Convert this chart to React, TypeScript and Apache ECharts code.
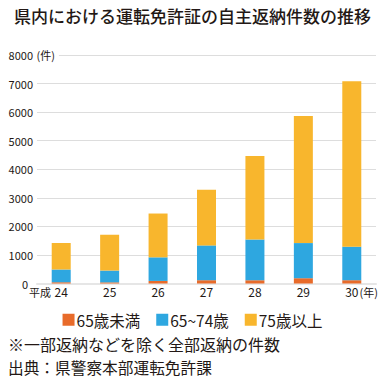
import React, { useEffect, useRef } from "react";
import * as echarts from "echarts";

const categories = ["24", "25", "26", "27", "28", "29", "30"];
const under65 = [40, 40, 90, 115, 115, 185, 115];
const age65to74 = [448, 413, 826, 1219, 1428, 1230, 1174];
const over75 = [927, 1254, 1534, 1952, 2917, 4449, 5795];
const seriesNames = ["65歳未満", "65~74歳", "75歳以上"];
const colors = ["#E86B2A", "#2EA7E0", "#F8B62D"];
const yTicks = { min: 0, max: 8000, interval: 1000 };

const TEXT = "#231815";
const FONT = "'Noto Sans CJK JP', 'Noto Sans', sans-serif";

export default function App() {
  const ref = useRef<HTMLDivElement>(null);
  useEffect(() => {
    if (!ref.current) return;
    const chart = echarts.init(ref.current, undefined, { renderer: "svg" });
    const data = [under65, age65to74, over75];
    chart.setOption({
      animation: false,
      backgroundColor: "#fff",
      textStyle: { fontFamily: FONT, color: TEXT },
      grid: { left: 37, right: 9, top: 55, bottom: 97.5, containLabel: false },
      legend: {
        data: seriesNames,
        left: "center",
        top: 307,
        itemWidth: 12,
        itemHeight: 12,
        itemGap: 16,
        icon: "rect",
        textStyle: { fontSize: 15.5, color: TEXT, fontFamily: FONT, padding: [0, 0, 0, -3] },
      },
      xAxis: {
        type: "category",
        data: categories,
        axisLine: { show: true, lineStyle: { color: "#e6e6e6", width: 2 } },
        axisTick: { show: false },
        axisLabel: { fontSize: 12, color: TEXT, margin: 2, fontFamily: FONT },
      },
      yAxis: {
        type: "value",
        min: yTicks.min,
        max: yTicks.max,
        interval: yTicks.interval,
        axisLine: { show: false },
        axisTick: { show: false },
        splitLine: { lineStyle: { color: "#dddddd", width: 1 } },
        axisLabel: {
          fontSize: 11,
          color: TEXT,
          margin: 4,
          fontFamily: FONT,
          formatter: (v: number) => (v === 0 ? "{z|0}" : String(v)),
          rich: {
            z: { fontSize: 11, color: TEXT, fontFamily: FONT, padding: [0, 5, 0, 0] },
          },
        },
      },
      series: seriesNames.map((name, i) => ({
        name,
        type: "bar",
        stack: "total",
        barWidth: 19,
        data: data[i],
        itemStyle: { color: colors[i] },
      })),
      graphic: [
        {
          type: "text",
          left: "center",
          top: 7,
          style: {
            text: "県内における運転免許証の自主返納件数の推移",
            fontSize: 17,
            fontWeight: 500,
            fill: TEXT,
            fontFamily: FONT,
          },
        },
        {
          type: "text",
          x: 34,
          y: 55,
          z: 100,
          style: {
            text: " (件)",
            fontSize: 11,
            fill: TEXT,
            fontFamily: FONT,
            verticalAlign: "middle",
            backgroundColor: "#fff",
            padding: [2, 4, 2, 0],
          },
        },
        {
          type: "text",
          x: 51,
          y: 292,
          style: {
            text: "平成",
            fontSize: 11,
            fill: TEXT,
            fontFamily: FONT,
            align: "right",
            verticalAlign: "middle",
          },
        },
        {
          type: "text",
          x: 357,
          y: 292,
          style: {
            text: " (年)",
            fontSize: 11,
            fill: TEXT,
            fontFamily: FONT,
            verticalAlign: "middle",
          },
        },
        {
          type: "text",
          x: 8,
          y: 344,
          style: {
            text: "※一部返納などを除く全部返納の件数",
            fontSize: 16,
            fill: TEXT,
            fontFamily: FONT,
            verticalAlign: "middle",
          },
        },
        {
          type: "text",
          x: 8,
          y: 367,
          style: {
            text: "出典：県警察本部運転免許課",
            fontSize: 15.7,
            fill: TEXT,
            fontFamily: FONT,
            verticalAlign: "middle",
          },
        },
      ],
    });
    return () => chart.dispose();
  }, []);
  return <div ref={ref} style={{ width: 385, height: 381, position: "absolute", left: 0, top: 0 }} />;
}
